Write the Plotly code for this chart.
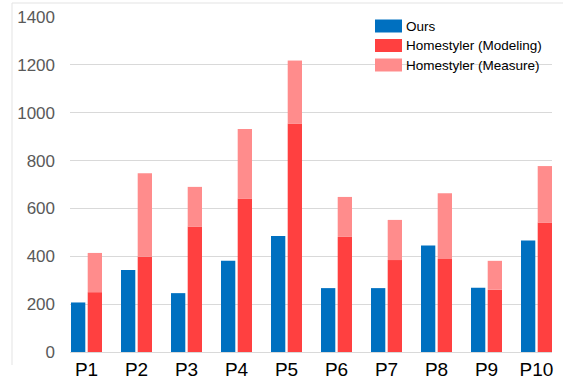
import plotly.graph_objects as go

categories = ["P1", "P2", "P3", "P4", "P5", "P6", "P7", "P8", "P9", "P10"]
ours = [207, 343, 246, 381, 485, 267, 267, 445, 268, 466]
hs_modeling = [250, 398, 523, 642, 955, 481, 384, 389, 260, 541]
hs_total = [414, 747, 690, 932, 1218, 648, 552, 663, 381, 777]
hs_measure = [t - m for t, m in zip(hs_total, hs_modeling)]
y_ticks = [0, 200, 400, 600, 800, 1000, 1200, 1400]

series_names = ["Ours", "Homestyler (Modeling)", "Homestyler (Measure)"]
colors = ["#0070C0", "#FF4040", "#FF8C8C"]

idx = list(range(len(categories)))
bw = 0.286
off = 0.167

fig = go.Figure()
fig.add_trace(go.Bar(x=[i - off for i in idx], y=ours, width=bw, name=series_names[0],
                     marker=dict(color=colors[0], line=dict(width=0)), showlegend=False))
fig.add_trace(go.Bar(x=[i + off for i in idx], y=hs_modeling, width=bw, name=series_names[1],
                     marker=dict(color=colors[1], line=dict(width=0)), showlegend=False))
fig.add_trace(go.Bar(x=[i + off for i in idx], y=hs_measure, base=hs_modeling, width=bw,
                     name=series_names[2],
                     marker=dict(color=colors[2], line=dict(width=0)), showlegend=False))

W, H = 563, 387
ml, mr, mt, mb = 70, 11, 17, 35
pw, ph = W - ml - mr, H - mt - mb


def px_x(x):
    return (x - ml) / pw


def px_y(y):
    return (H - mb - y) / ph


fig.update_layout(
    width=W, height=H,
    margin=dict(l=ml, r=mr, t=mt, b=mb, autoexpand=False),
    barmode="overlay",
    plot_bgcolor="white", paper_bgcolor="white",
    font=dict(family="Arial, Liberation Sans, sans-serif"),
    xaxis=dict(range=[-0.33, 9.31], tickmode="array", tickvals=idx, ticktext=categories,
               showgrid=False, zeroline=False, showline=True, linecolor="#d9d9d9", linewidth=1,
               tickfont=dict(size=19, color="#000000"), ticks="", ticklabelstandoff=0,
               automargin=False),
    yaxis=dict(range=[0, 1400], tickmode="array", tickvals=y_ticks,
               showgrid=True, gridcolor="#d9d9d9", gridwidth=1, zeroline=False,
               showline=False, tickfont=dict(size=17, color="#595959"), ticks="",
               ticklabelstandoff=14, automargin=False),
)

# Frame lines (top and left border of the chart area)
fig.add_shape(type="line", xref="paper", yref="paper",
              x0=px_x(12), x1=px_x(W + 5), y0=px_y(3), y1=px_y(3),
              line=dict(color="#e3e3e3", width=1))
fig.add_shape(type="line", xref="paper", yref="paper",
              x0=px_x(12), x1=px_x(12), y0=px_y(365), y1=px_y(3),
              line=dict(color="#e3e3e3", width=1))

# Manual legend
for k, (nm, c) in enumerate(zip(series_names, colors)):
    cy = 26 + k * 19.5
    fig.add_shape(type="rect", xref="paper", yref="paper",
                  x0=px_x(375), x1=px_x(402), y0=px_y(cy + 6.5), y1=px_y(cy - 6.5),
                  fillcolor=c, line=dict(width=0))
    fig.add_annotation(xref="paper", yref="paper", x=px_x(404), y=px_y(cy),
                       xanchor="left", yanchor="middle", text=nm, showarrow=False,
                       font=dict(size=13.5, color="#000000"))

fig.write_html("out.html", config={"displayModeBar": False},
               post_script="document.body.style.margin='0';document.body.style.overflow='hidden';")
